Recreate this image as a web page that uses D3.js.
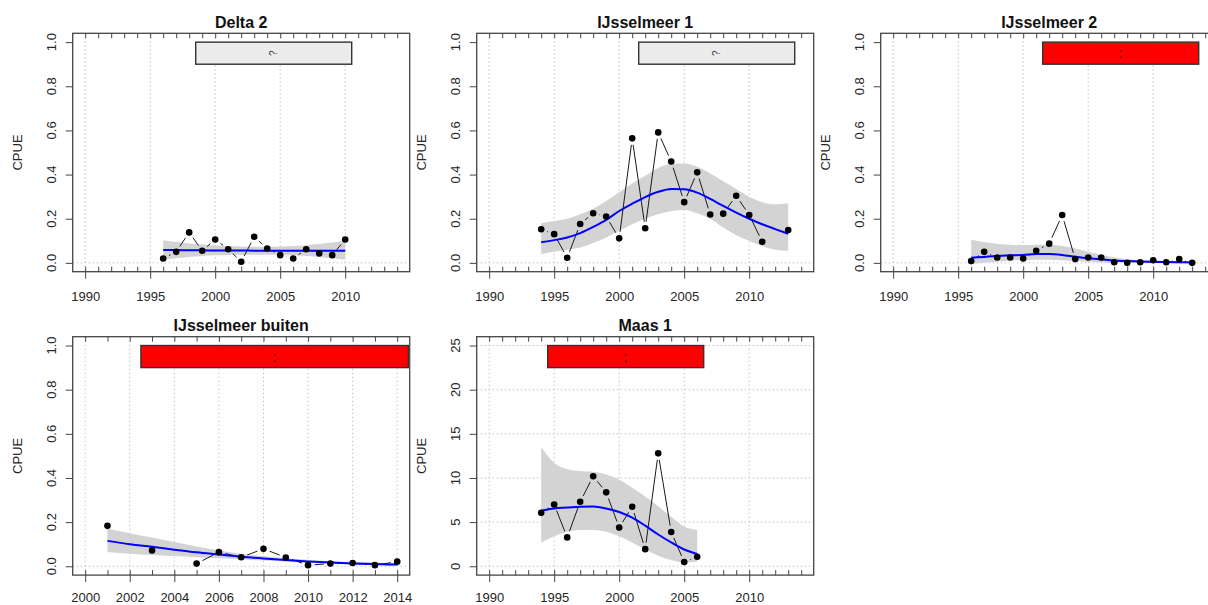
<!DOCTYPE html>
<html><head><meta charset="utf-8">
<script src="https://cdn.jsdelivr.net/npm/d3@7"></script>
<style>
html,body{margin:0;padding:0;background:#fff;}
svg{display:block;font-family:"Liberation Sans",Arial,sans-serif;}
</style></head>
<body>
<svg id="chart" width="1208" height="605"></svg>
<script>
// ---------------- DATA ----------------
const titles = ["Delta 2", "IJsselmeer 1", "IJsselmeer 2", "IJsselmeer buiten", "Maas 1"];
const yLabel = "CPUE";

// Delta 2
const years1 = [1996,1997,1998,1999,2000,2001,2002,2003,2004,2005,2006,2007,2008,2009,2010];
const cpue1  = [0.020,0.050,0.138,0.055,0.106,0.062,0.005,0.118,0.065,0.035,0.020,0.062,0.043,0.035,0.106];
const fit1   = [0.058,0.058,0.057,0.057,0.056,0.056,0.056,0.055,0.055,0.055,0.055,0.055,0.055,0.055,0.055];
const upper1 = [0.103,0.095,0.088,0.083,0.079,0.076,0.074,0.073,0.073,0.074,0.076,0.080,0.085,0.092,0.100];
const lower1 = [0.015,0.021,0.027,0.031,0.034,0.036,0.037,0.037,0.037,0.036,0.034,0.031,0.027,0.021,0.015];

// IJsselmeer 1
const years2 = [1994,1995,1996,1997,1998,1999,2000,2001,2002,2003,2004,2005,2006,2007,2008,2009,2010,2011,2012,2013];
const cpue2  = [0.152,0.130,0.023,0.176,0.225,0.210,0.111,0.564,0.157,0.591,0.459,0.275,0.410,0.219,0.223,0.304,0.217,0.096,null,0.149];
const fit2   = [0.093,0.103,0.115,0.135,0.163,0.195,0.235,0.268,0.298,0.322,0.335,0.333,0.318,0.290,0.258,0.228,0.200,0.175,0.153,0.132];
const upper2 = [0.180,0.190,0.200,0.220,0.245,0.280,0.320,0.360,0.395,0.430,0.448,0.450,0.435,0.405,0.370,0.335,0.300,0.275,0.265,0.270];
const lower2 = [0.040,0.050,0.060,0.070,0.090,0.115,0.145,0.175,0.200,0.220,0.235,0.240,0.225,0.200,0.160,0.125,0.100,0.075,0.060,0.055];

// IJsselmeer 2
const years3 = [1996,1997,1998,1999,2000,2001,2002,2003,2004,2005,2006,2007,2008,2009,2010,2011,2012,2013];
const cpue3  = [0.008,0.050,0.024,0.024,0.020,0.055,0.087,0.217,0.017,0.024,0.024,0.003,0.000,0.003,0.012,0.003,0.017,0.000];
const fit3   = [0.023,0.027,0.031,0.034,0.036,0.040,0.040,0.036,0.028,0.021,0.016,0.011,0.008,0.006,0.005,0.004,0.003,0.002];
const upper3 = [0.105,0.095,0.087,0.082,0.080,0.082,0.082,0.076,0.065,0.050,0.036,0.025,0.016,0.012,0.010,0.009,0.008,0.008];
const lower3 = [-0.005,0.000,0.005,0.010,0.012,0.014,0.014,0.012,0.008,0.005,0.002,0.000,0.000,0.000,-0.001,-0.002,-0.003,-0.004];

// IJsselmeer buiten
const years4 = [2001,2002,2003,2004,2005,2006,2007,2008,2009,2010,2011,2012,2013,2014];
const cpue4  = [0.183,null,0.072,null,0.012,0.064,0.041,0.079,0.040,0.005,0.012,0.015,0.005,0.021];
const fit4   = [0.115,0.100,0.088,0.075,0.063,0.053,0.043,0.035,0.028,0.022,0.017,0.013,0.010,0.008];
const upper4 = [0.170,0.150,0.130,0.110,0.090,0.072,0.057,0.046,0.036,0.029,0.023,0.019,0.016,0.014];
const lower4 = [0.065,0.057,0.051,0.046,0.041,0.036,0.031,0.026,0.021,0.016,0.012,0.008,0.005,0.003];

// Maas 1
const years5 = [1994,1995,1996,1997,1998,1999,2000,2001,2002,2003,2004,2005,2006];
const cpue5  = [6.05,7.00,3.27,7.30,10.20,8.37,4.38,6.74,1.94,12.79,3.88,0.49,1.07];
const fit5   = [6.30,6.55,6.65,6.75,6.77,6.55,6.15,5.50,4.60,3.60,2.70,1.90,1.40];
const upper5 = [13.5,11.7,11.0,10.8,10.7,10.4,9.8,8.9,7.9,6.8,5.6,4.5,4.1];
const lower5 = [2.7,3.4,3.9,4.1,4.1,3.9,3.4,2.7,1.9,1.2,0.7,0.4,0.5];

// axes limits and tick labels
const xLimits = [[1990,2014],[1990,2014],[1990,2014],[2000,2014],[1990,2014]];
const yLimits = [[0,1],[0,1],[0,1],[0,1],[0,25]];
const xTickLabels = [
  [1990,1995,2000,2005,2010],[1990,1995,2000,2005,2010],[1990,1995,2000,2005,2010],
  [2000,2002,2004,2006,2008,2010,2012,2014],[1990,1995,2000,2005,2010]];
const yTickLabels = [
  [0,0.2,0.4,0.6,0.8,1.0],[0,0.2,0.4,0.6,0.8,1.0],[0,0.2,0.4,0.6,0.8,1.0],
  [0,0.2,0.4,0.6,0.8,1.0],[0,5,10,15,20,25]];

// status boxes
const boxStart = [1998.5, 2001.5, 2001.5, 2002.5, 1994.5];
const boxEnd   = [2010.5, 2013.5, 2013.5, 2014.5, 2006.5];
const boxStatus = ["unknown","unknown","bad","bad","bad"];
const boxText  = ["?", "?", ":", ":", ":"];

// ---------------- LAYOUT / STYLE ----------------
const colLeft = [72.7, 476.7, 880.7];
const rowTop = [33.3, 336.7];
const PW = 337, PH = 238.4;
const gridCol = "#c4c4c4";
const frameCol = "#454545";
const txtCol = "#262626";

const svg = d3.select("#chart");

const series = [
  {years: years1, cpue: cpue1, fit: fit1, lo: lower1, hi: upper1},
  {years: years2, cpue: cpue2, fit: fit2, lo: lower2, hi: upper2},
  {years: years3, cpue: cpue3, fit: fit3, lo: lower3, hi: upper3},
  {years: years4, cpue: cpue4, fit: fit4, lo: lower4, hi: upper4},
  {years: years5, cpue: cpue5, fit: fit5, lo: lower5, hi: upper5}
];

series.forEach((s, i) => {
  const row = Math.floor(i / 3);
  const L = colLeft[i % 3], T = rowTop[row];
  const xl = xLimits[i], yl = yLimits[i];
  const xp = (xl[1]-xl[0])*0.04, yp = (yl[1]-yl[0])*0.04;
  const x = d3.scaleLinear().domain([xl[0]-xp, xl[1]+xp]).range([L, L+PW]);
  const y = d3.scaleLinear().domain([yl[0]-yp, yl[1]+yp]).range([T+PH, T]);
  const g = svg.append("g");
  const yFmt = yl[1] > 5 ? d3.format("d") : d3.format(".1f");

  // grid
  g.selectAll(".vg").data(xTickLabels[i]).join("line")
    .attr("x1", d => x(d)).attr("x2", d => x(d))
    .attr("y1", T).attr("y2", T+PH)
    .attr("stroke", gridCol).attr("stroke-width", 1).attr("stroke-dasharray", "1.5,2.5");
  const hLines = yl[1] > 5 ? yTickLabels[i] : [0];
  g.selectAll(".hg").data(hLines).join("line")
    .attr("x1", L).attr("x2", L+PW)
    .attr("y1", d => y(d)).attr("y2", d => y(d))
    .attr("stroke", gridCol).attr("stroke-width", 1).attr("stroke-dasharray", "1.5,2.5");

  // confidence band
  const idx = d3.range(s.years.length);
  g.append("path")
    .attr("d", d3.area().curve(d3.curveMonotoneX)
      .x(k => x(s.years[k])).y0(k => y(s.lo[k])).y1(k => y(s.hi[k]))(idx))
    .attr("fill", "#d3d3d3");

  // observed (type "b": lines with gaps around points)
  const gap = 6.5;
  for (let k = 0; k < s.years.length - 1; k++) {
    if (s.cpue[k] == null || s.cpue[k+1] == null) continue;
    const x1 = x(s.years[k]), y1 = y(s.cpue[k]);
    const x2 = x(s.years[k+1]), y2 = y(s.cpue[k+1]);
    const dx = x2-x1, dy = y2-y1, len = Math.hypot(dx, dy);
    if (len <= 2*gap) continue;
    const ux = dx/len, uy = dy/len;
    g.append("line")
      .attr("x1", x1+ux*gap).attr("y1", y1+uy*gap)
      .attr("x2", x2-ux*gap).attr("y2", y2-uy*gap)
      .attr("stroke", "#1a1a1a").attr("stroke-width", 1);
  }

  // fit line
  g.append("path")
    .attr("d", d3.line().curve(d3.curveMonotoneX)
      .x(k => x(s.years[k])).y(k => y(s.fit[k]))(idx))
    .attr("fill", "none").attr("stroke", "#0000ff").attr("stroke-width", 2);

  // points
  g.selectAll(".pt").data(idx.filter(k => s.cpue[k] != null)).join("circle")
    .attr("cx", k => x(s.years[k])).attr("cy", k => y(s.cpue[k]))
    .attr("r", 3.3).attr("fill", "#000");

  // status box
  const by0 = yl[1]*0.9, by1 = yl[1];
  g.append("rect")
    .attr("x", x(boxStart[i])).attr("y", y(by1))
    .attr("width", x(boxEnd[i]) - x(boxStart[i]))
    .attr("height", y(by0) - y(by1))
    .attr("fill", boxStatus[i] === "bad" ? "#ff0000" : "#ececec")
    .attr("stroke", "#333").attr("stroke-width", 1.4);
  const bcx = x((boxStart[i]+boxEnd[i])/2), bcy = y((by0+by1)/2);
  if (boxStatus[i] === "bad") {
    g.append("text").attr("x", bcx).attr("y", bcy).attr("dy", "0.35em")
      .attr("text-anchor", "middle").attr("font-size", 15).attr("fill", "#4a0000")
      .text(boxText[i]);
  } else {
    g.append("text").attr("transform", `translate(${bcx},${bcy}) rotate(-90)`)
      .attr("dy", "0.35em").attr("text-anchor", "middle").attr("font-size", 10)
      .attr("fill", "#334").text(boxText[i]);
  }

  // minor ticks (inside, every year) top and bottom
  const minor = d3.range(xl[0], xl[1]+1);
  const mt = g.append("g").attr("transform", `translate(0,${T})`)
    .call(d3.axisTop(x).tickValues(minor).tickSize(-5).tickFormat(""));
  const mb = g.append("g").attr("transform", `translate(0,${T+PH})`)
    .call(d3.axisBottom(x).tickValues(minor).tickSize(-5).tickFormat(""));
  [mt, mb].forEach(a => { a.select(".domain").remove(); a.selectAll("line").attr("stroke", frameCol); });

  // x axis
  const ax = g.append("g").attr("transform", `translate(0,${T+PH})`)
    .call(d3.axisBottom(x).tickValues(xTickLabels[i]).tickSize(7).tickPadding(row === 1 ? 11 : 13.3)
      .tickFormat(d3.format("d")));
  ax.select(".domain").remove();
  ax.selectAll("line").attr("stroke", frameCol);
  ax.selectAll("text").attr("font-size", 13).attr("fill", txtCol)
    .attr("font-family", "Liberation Sans, Arial, sans-serif");

  // y axis
  const ay = g.append("g").attr("transform", `translate(${L},0)`)
    .call(d3.axisLeft(y).tickValues(yTickLabels[i]).tickSize(7).tickFormat(""));
  ay.select(".domain").remove();
  ay.selectAll("line").attr("stroke", frameCol);
  g.selectAll(".yl").data(yTickLabels[i]).join("text")
    .attr("transform", d => `translate(${L-21},${y(d)}) rotate(-90)`)
    .attr("dy", "0.35em").attr("text-anchor", "middle")
    .attr("font-size", 13).attr("fill", txtCol).text(d => yFmt(d));

  // frame
  g.append("rect").attr("x", L).attr("y", T).attr("width", PW).attr("height", PH)
    .attr("fill", "none").attr("stroke", frameCol).attr("stroke-width", 1.3);

  // title
  g.append("text").attr("x", L + PW/2).attr("y", T - 5.5)
    .attr("text-anchor", "middle").attr("font-size", 16).attr("font-weight", "bold")
    .attr("fill", "#111").text(titles[i]);

  // y label
  g.append("text").attr("transform", `translate(${L-55},${T+PH/2})rotate(-90)`)
    .attr("dy", "0.35em").attr("text-anchor", "middle")
    .attr("font-size", 13).attr("fill", txtCol).text(yLabel);
});
</script>
</body></html>
